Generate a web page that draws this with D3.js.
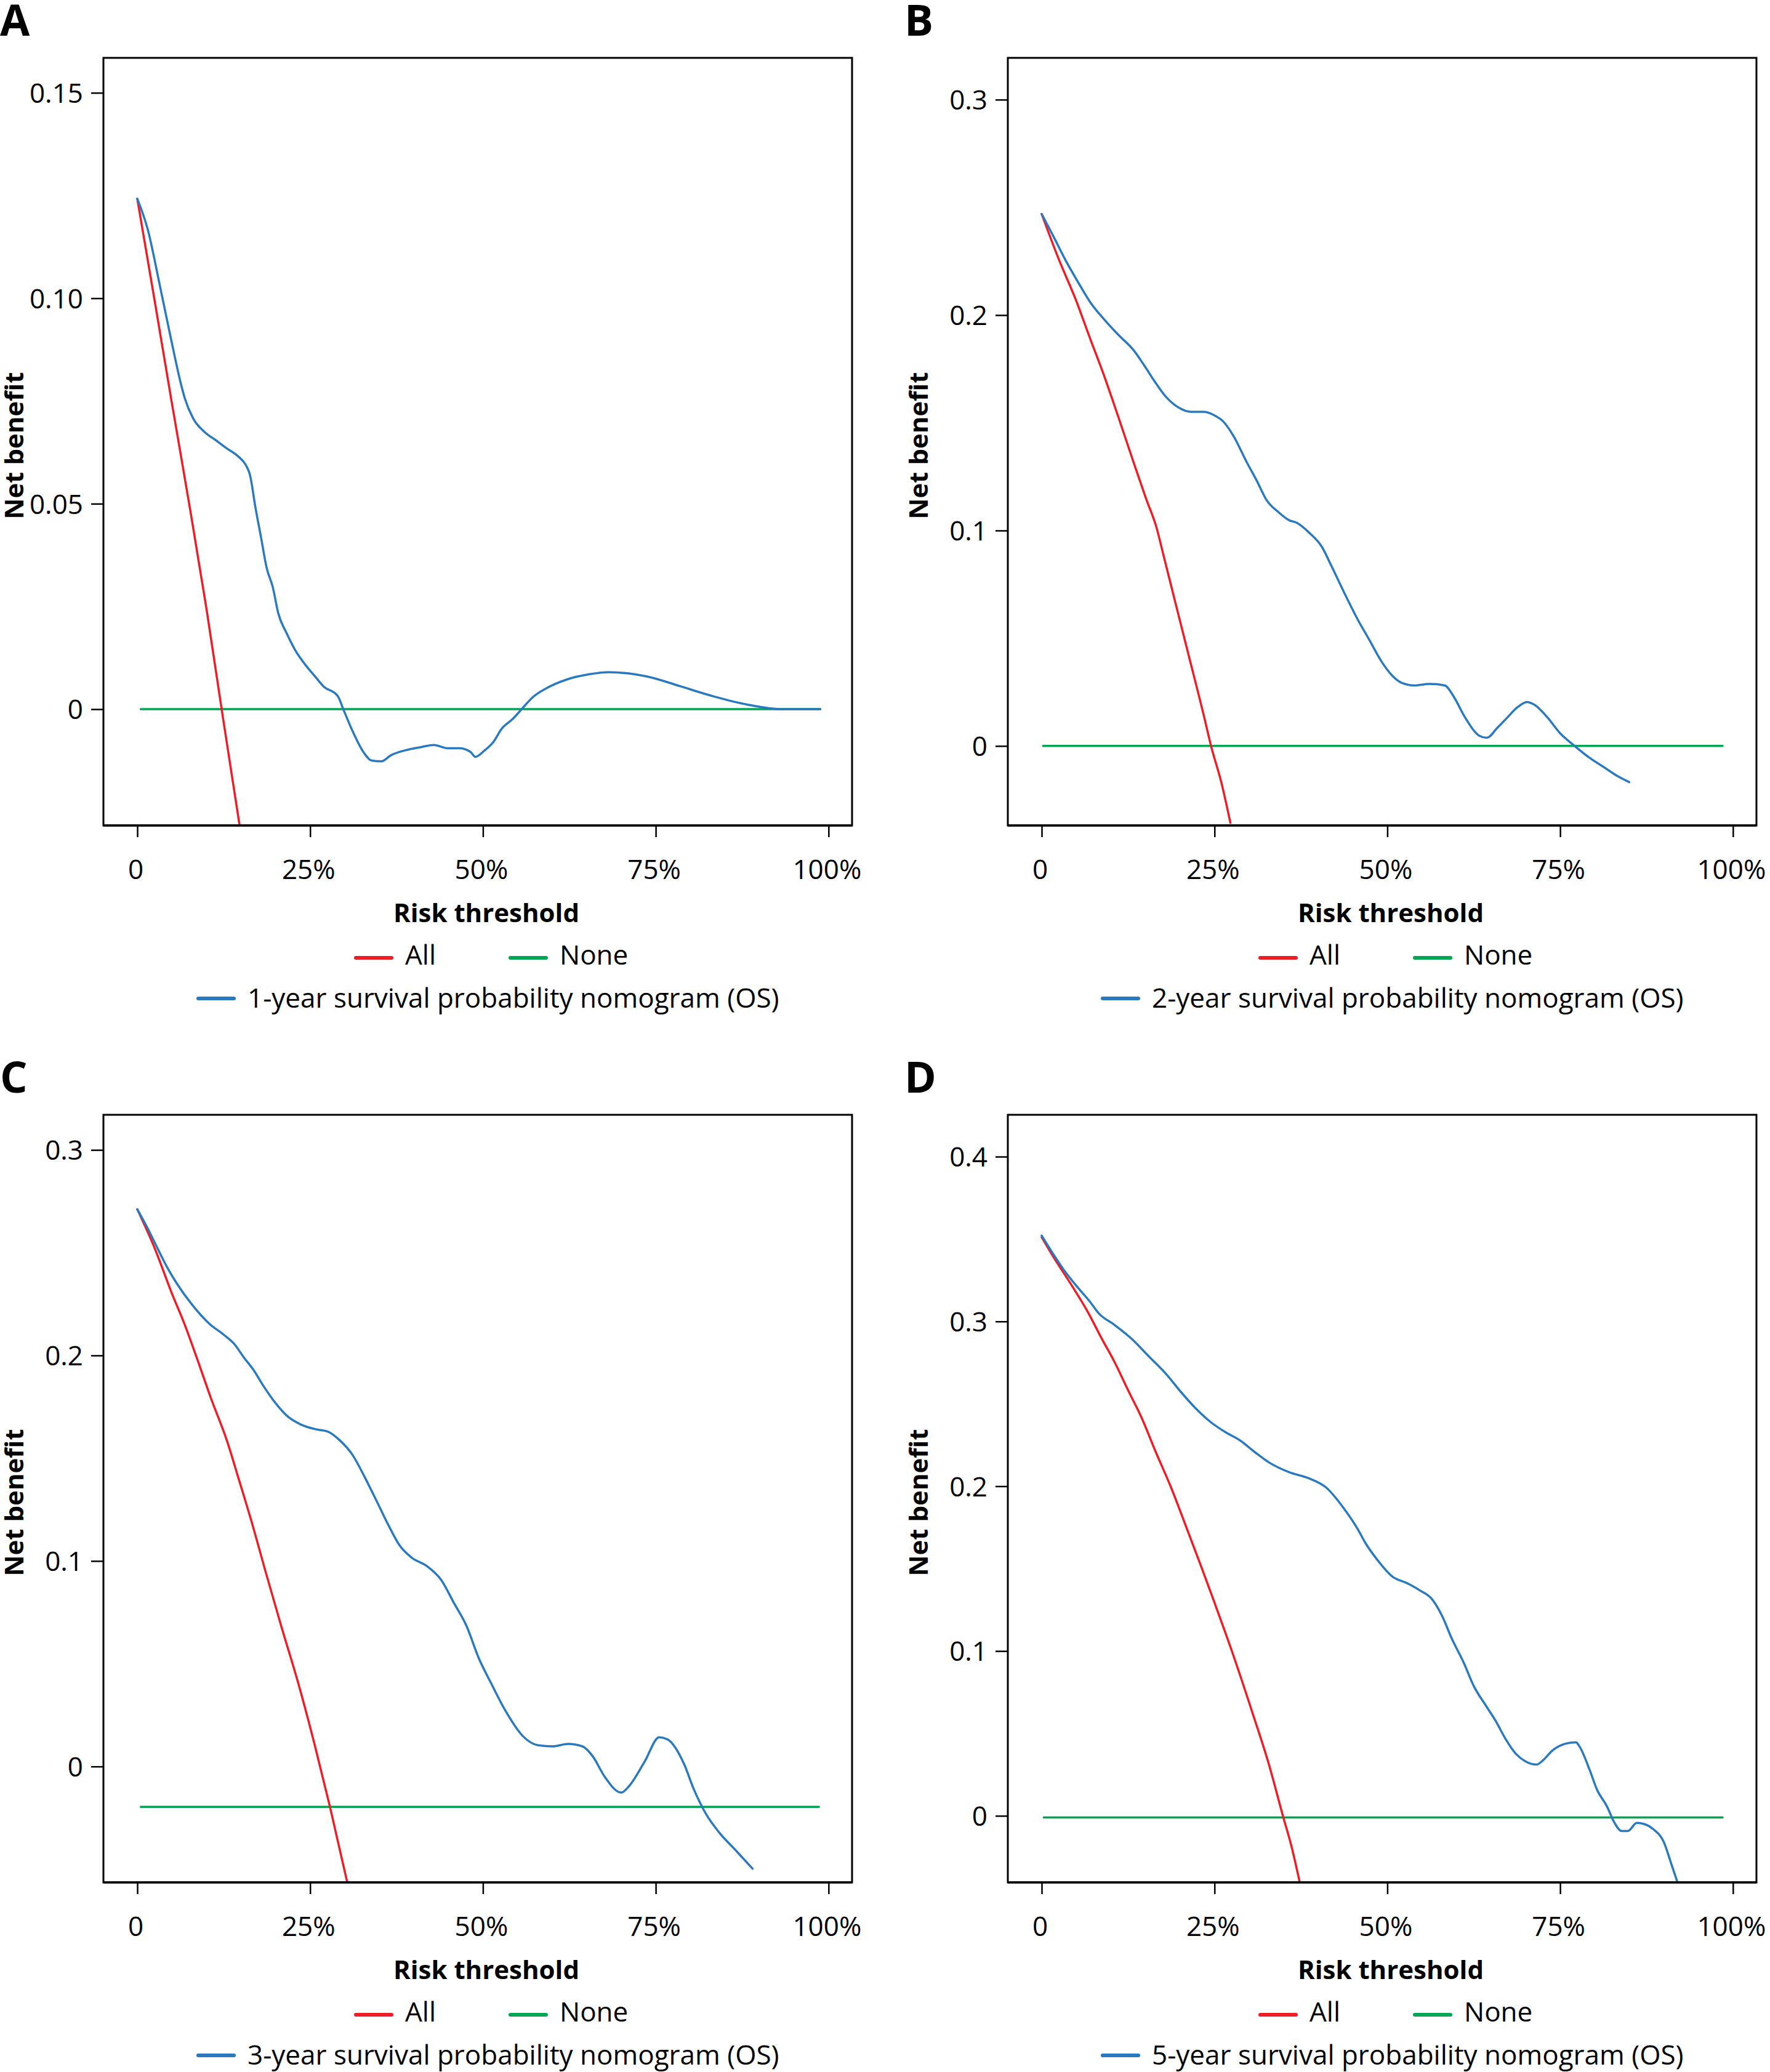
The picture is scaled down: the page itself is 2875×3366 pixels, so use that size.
<!DOCTYPE html>
<html>
<head>
<meta charset="utf-8">
<script src="https://cdn.jsdelivr.net/npm/d3@7"></script>
<style>
  body { margin: 0; background: #fff; }
  text { font-family: "Open Sans", "Noto Sans", sans-serif; fill: #000; }
</style>
</head>
<body>
<div id="chart"></div>
<script>
// ---- data: [risk threshold, net benefit] ----
const xTicks = [0, 0.25, 0.5, 0.75, 1];
const xTickLabels = ['0', '25%', '50%', '75%', '100%'];
const panelLetters = ['A', 'B', 'C', 'D'];
const seriesNames = ['1-year', '2-year', '3-year', '5-year'];

const yTicksA = [0, 0.05, 0.10, 0.15];
const yLabelsA = ['0', '0.05', '0.10', '0.15'];
const yTicksB = [0, 0.1, 0.2, 0.3];
const yLabelsB = ['0', '0.1', '0.2', '0.3'];
const yTicksC = [0, 0.1, 0.2, 0.3];
const yLabelsC = ['0', '0.1', '0.2', '0.3'];
const yTicksD = [0, 0.1, 0.2, 0.3, 0.4];
const yLabelsD = ['0', '0.1', '0.2', '0.3', '0.4'];

const yDomainA = [-0.0283, 0.1585];
const yDomainB = [-0.0369, 0.3194];
const yDomainC = [-0.0564, 0.3171];
const yDomainD = [-0.0404, 0.4254];

const nomogramA = [[0,0.1242],[0.0155,0.1165],[0.032,0.1036],[0.048,0.0907],[0.065,0.0779],[0.069,0.0755],[0.081,0.0707],[0.097,0.0675],[0.114,0.0654],[0.130,0.0634],[0.146,0.0615],[0.157,0.0594],[0.163,0.0570],[0.171,0.0490],[0.179,0.0418],[0.187,0.0345],[0.196,0.0297],[0.204,0.0233],[0.216,0.0185],[0.228,0.0145],[0.245,0.0104],[0.257,0.0080],[0.269,0.0056],[0.290,0.0032],[0.298,0],[0.310,-0.0048],[0.327,-0.0104],[0.339,-0.0125],[0.353,-0.0127],[0.367,-0.0112],[0.388,-0.0100],[0.408,-0.0093],[0.429,-0.0087],[0.449,-0.0095],[0.466,-0.0095],[0.482,-0.0104],[0.489,-0.0116],[0.502,-0.0101],[0.515,-0.0080],[0.527,-0.0048],[0.543,-0.0024],[0.556,0],[0.572,0.0029],[0.592,0.0051],[0.621,0.0072],[0.654,0.0085],[0.682,0.0090],[0.711,0.0087],[0.744,0.0077],[0.785,0.0056],[0.834,0.0031],[0.883,0.0011],[0.932,0],[0.988,0]];
const treatAllA = [[0,0.1242],[0.025,0.0995],[0.05,0.0745],[0.075,0.050],[0.10,0.0245],[0.122,0],[0.148,-0.0283]];
const treatNoneA = [[0.005,0],[0.988,0]];

const nomogramB = [[0,0.2469],[0.0167,0.2367],[0.0348,0.2253],[0.053,0.2151],[0.071,0.2056],[0.089,0.1985],[0.111,0.1908],[0.133,0.1837],[0.148,0.1768],[0.162,0.1699],[0.180,0.1620],[0.198,0.1571],[0.216,0.1551],[0.234,0.1551],[0.249,0.1536],[0.263,0.1505],[0.278,0.1436],[0.296,0.1321],[0.311,0.1232],[0.325,0.1143],[0.343,0.1084],[0.358,0.1048],[0.369,0.1036],[0.387,0.0990],[0.405,0.0926],[0.419,0.0837],[0.438,0.0709],[0.456,0.0594],[0.474,0.0492],[0.492,0.0390],[0.507,0.0327],[0.521,0.0293],[0.539,0.0281],[0.561,0.0288],[0.583,0.0281],[0.597,0.0224],[0.612,0.0135],[0.634,0.0046],[0.644,0.0038],[0.659,0.0084],[0.673,0.0130],[0.688,0.0179],[0.702,0.0204],[0.713,0.0191],[0.731,0.0135],[0.750,0.0059],[0.771,0],[0.793,-0.0056],[0.815,-0.0102],[0.833,-0.0140],[0.850,-0.0168]];
const treatAllB = [[0,0.2469],[0.024,0.2265],[0.049,0.2074],[0.071,0.1883],[0.089,0.1730],[0.111,0.1526],[0.133,0.1316],[0.151,0.1148],[0.166,0.1015],[0.176,0.0888],[0.195,0.0645],[0.213,0.0416],[0.235,0.0135],[0.245,0],[0.260,-0.0171],[0.273,-0.0357]];
const treatNoneB = [[0.002,0],[0.985,0]];

const nomogramC = [[0,0.2711],[0.014,0.2625],[0.029,0.2523],[0.043,0.2430],[0.057,0.2351],[0.079,0.2248],[0.104,0.2155],[0.125,0.2101],[0.140,0.2057],[0.154,0.1991],[0.168,0.1930],[0.183,0.1849],[0.200,0.1768],[0.218,0.1702],[0.236,0.1665],[0.258,0.1641],[0.276,0.1629],[0.293,0.1587],[0.311,0.1518],[0.329,0.1408],[0.347,0.1286],[0.365,0.1163],[0.379,0.1078],[0.397,0.1016],[0.419,0.0975],[0.440,0.0906],[0.458,0.0796],[0.476,0.0686],[0.494,0.0527],[0.512,0.0404],[0.533,0.0269],[0.558,0.0147],[0.580,0.0103],[0.601,0.0098],[0.623,0.0110],[0.644,0.0098],[0.659,0.0049],[0.676,-0.0049],[0.700,-0.0127],[0.712,-0.0093],[0.734,0.0024],[0.755,0.0142],[0.767,0.0132],[0.791,0.0012],[0.805,-0.0110],[0.823,-0.0233],[0.841,-0.0318],[0.866,-0.0409],[0.890,-0.0497]];
const treatAllC = [[0,0.2711],[0.025,0.2523],[0.050,0.2302],[0.068,0.2155],[0.086,0.1989],[0.107,0.1788],[0.129,0.1592],[0.147,0.1396],[0.165,0.1195],[0.186,0.0943],[0.208,0.0686],[0.2327,0.0407],[0.2565,0.0107],[0.2787,-0.0196],[0.304,-0.0568]];
const treatNoneC = [[0.005,-0.0196],[0.986,-0.0196]];

const nomogramD = [[0,0.3521],[0.016,0.3414],[0.033,0.3307],[0.051,0.3212],[0.069,0.3124],[0.083,0.3047],[0.105,0.2980],[0.130,0.2895],[0.155,0.2788],[0.180,0.2681],[0.201,0.2574],[0.222,0.2476],[0.244,0.2391],[0.265,0.2330],[0.287,0.2278],[0.308,0.2208],[0.329,0.2144],[0.358,0.2085],[0.386,0.2049],[0.411,0.1994],[0.436,0.1872],[0.458,0.1734],[0.468,0.1658],[0.486,0.1551],[0.507,0.1453],[0.529,0.1411],[0.547,0.1368],[0.565,0.1313],[0.579,0.1215],[0.593,0.1078],[0.611,0.0925],[0.625,0.0788],[0.643,0.0666],[0.657,0.0574],[0.671,0.0467],[0.686,0.0376],[0.700,0.0330],[0.716,0.0311],[0.725,0.0336],[0.739,0.0397],[0.757,0.0437],[0.773,0.0446],[0.778,0.0421],[0.793,0.0275],[0.803,0.0162],[0.818,0.0055],[0.828,-0.0037],[0.839,-0.0092],[0.848,-0.0092],[0.861,-0.0043],[0.871,-0.0049],[0.885,-0.0082],[0.900,-0.0159],[0.910,-0.0281],[0.919,-0.0394]];
const treatAllD = [[0,0.3511],[0.016,0.3398],[0.044,0.3215],[0.066,0.3063],[0.087,0.2895],[0.105,0.2757],[0.126,0.2574],[0.144,0.2421],[0.165,0.2208],[0.187,0.1994],[0.208,0.1765],[0.230,0.1521],[0.2489,0.1306],[0.2756,0.0994],[0.3053,0.0620],[0.329,0.0308],[0.3492,-0.0004],[0.3617,-0.0191],[0.3736,-0.0409]];
const treatNoneD = [[0.003,-0.001],[0.985,-0.001]];

const colAll = '#ee1c25';
const colNone = '#00a651';
const colNom = '#2879c0';

// ---- layout (pixels) ----
const W = 2875, H = 3366;
const panelX = [0, 1469, 0, 1469];
const panelY = [0, 0, 1717, 1717];
const box = { left: 168, top: 94, width: 1216, height: 1247 };
const xDomain = [-0.049, 1.034];

const svg = d3.select('#chart').append('svg')
    .attr('width', W)
    .attr('height', H);

svg.append('rect').attr('width', W).attr('height', H).attr('fill', '#fff');

const panels = [
    { ticks: yTicksA, labels: yLabelsA, domain: yDomainA, nom: nomogramA, all: treatAllA, none: treatNoneA },
    { ticks: yTicksB, labels: yLabelsB, domain: yDomainB, nom: nomogramB, all: treatAllB, none: treatNoneB },
    { ticks: yTicksC, labels: yLabelsC, domain: yDomainC, nom: nomogramC, all: treatAllC, none: treatNoneC },
    { ticks: yTicksD, labels: yLabelsD, domain: yDomainD, nom: nomogramD, all: treatAllD, none: treatNoneD }
];

panels.forEach((p, i) => drawPanel(p, i));

function drawPanel(p, i) {
    const g = svg.append('g')
        .attr('transform', `translate(${panelX[i]},${panelY[i]})`);

    g.append('text')
        .attr('x', 0)
        .attr('y', 58)
        .style('font-size', '70px')
        .style('font-weight', 'bold')
        .text(panelLetters[i]);

    const x = d3.scaleLinear().domain(xDomain).range([box.left, box.left + box.width]);
    const y = d3.scaleLinear().domain(p.domain).range([box.top + box.height, box.top]);

    const clipId = 'clip' + i;
    g.append('clipPath').attr('id', clipId)
        .append('rect')
        .attr('x', box.left)
        .attr('y', box.top)
        .attr('width', box.width)
        .attr('height', box.height);

    const line = d3.line()
        .x(d => x(d[0]))
        .y(d => y(d[1]))
        .curve(d3.curveMonotoneX);

    const plot = g.append('g').attr('clip-path', `url(#${clipId})`);

    [[p.none, colNone], [p.all, colAll], [p.nom, colNom]].forEach(([series, color]) => {
        plot.append('path')
            .datum(series)
            .attr('d', line)
            .attr('fill', 'none')
            .attr('stroke', color)
            .attr('stroke-width', 3.5)
            .attr('stroke-linecap', 'round')
            .attr('stroke-linejoin', 'round');
    });

    g.append('rect')
        .attr('x', box.left)
        .attr('y', box.top)
        .attr('width', box.width)
        .attr('height', box.height)
        .attr('fill', 'none')
        .attr('stroke', '#000')
        .attr('stroke-width', 3);

    // bottom edge doubles as the x axis line, a bit heavier
    g.append('line')
        .attr('x1', box.left)
        .attr('x2', box.left + box.width)
        .attr('y1', box.top + box.height)
        .attr('y2', box.top + box.height)
        .attr('stroke', '#000')
        .attr('stroke-width', 3.5);

    const xAxis = d3.axisBottom(x)
        .tickValues(xTicks)
        .tickFormat((d, k) => xTickLabels[k])
        .tickSize(19);

    const xg = g.append('g')
        .attr('transform', `translate(0,${box.top + box.height})`)
        .call(xAxis);
    xg.select('.domain').remove();
    xg.selectAll('line').attr('stroke', '#000').attr('stroke-width', 2.5);
    xg.selectAll('text')
        .attr('x', -3)
        .attr('y', 87)
        .attr('dy', null)
        .attr('font-family', null)
        .attr('font-size', null)
        .style('font-size', '44px');

    const yAxis = d3.axisLeft(y)
        .tickValues(p.ticks)
        .tickFormat((d, k) => p.labels[k])
        .tickSize(20)
        .tickPadding(13);

    const yg = g.append('g')
        .attr('transform', `translate(${box.left},0)`)
        .call(yAxis);
    yg.select('.domain').remove();
    yg.selectAll('line').attr('stroke', '#000').attr('stroke-width', 2.5);
    yg.selectAll('text')
        .attr('dy', '0.36em')
        .attr('font-family', null)
        .attr('font-size', null)
        .style('font-size', '44px');

    g.append('text')
        .attr('transform', 'rotate(-90)')
        .attr('x', -724)
        .attr('y', 38)
        .attr('text-anchor', 'middle')
        .style('font-size', '42px')
        .style('font-weight', 'bold')
        .text('Net benefit');

    g.append('text')
        .attr('x', 790)
        .attr('y', box.top + box.height + 157)
        .attr('text-anchor', 'middle')
        .style('font-size', '42px')
        .style('font-weight', 'bold')
        .text('Risk threshold');

    // legend
    const base = box.top + box.height;
    const legendItems = [
        { x: 575, y: base + 226, color: colAll, label: 'All' },
        { x: 826, y: base + 226, color: colNone, label: 'None' },
        { x: 319, y: base + 296, color: colNom, label: `${seriesNames[i]} survival probability nomogram (OS)` }
    ];

    legendItems.forEach((item, k) => {
        const row = g.append('g')
            .attr('transform', `translate(${item.x},${item.y})`);

        row.append('line')
            .attr('x1', 3)
            .attr('x2', 61)
            .attr('y1', k < 2 ? -11 : -15)
            .attr('y2', k < 2 ? -11 : -15)
            .attr('stroke', item.color)
            .attr('stroke-width', 6)
            .attr('stroke-linecap', 'round');

        row.append('text')
            .attr('x', 83)
            .attr('y', 0)
            .style('font-size', '44px')
            .text(item.label);
    });
}
</script>
</body>
</html>
